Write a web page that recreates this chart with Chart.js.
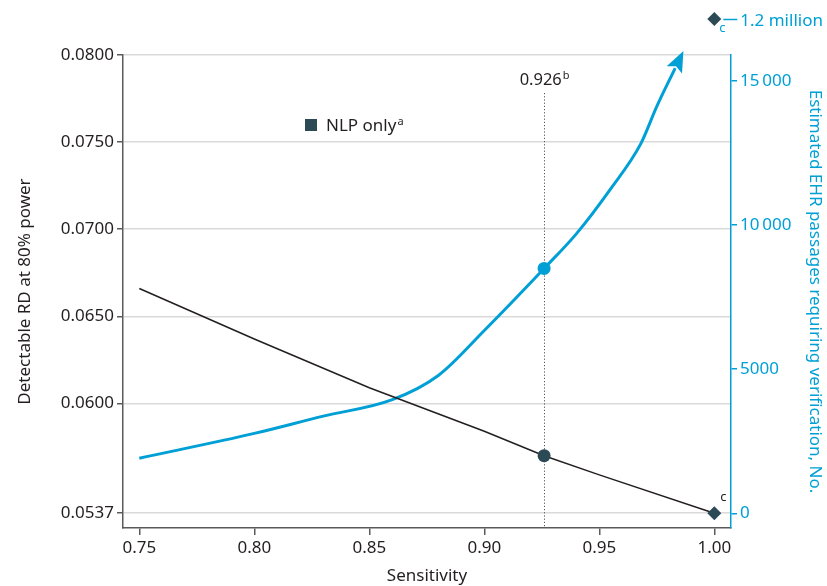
<!DOCTYPE html>
<html>
<head>
<meta charset="utf-8">
<script src="https://cdn.jsdelivr.net/npm/chart.js@4.4.1/dist/chart.umd.min.js"></script>
<style>
  body { margin: 0; background: #fff; }
</style>
</head>
<body>
<canvas id="chart" width="827" height="586"></canvas>
<script>
// detectable RD at 80% power, NLP only (left axis)
const rdSens = [0.75, 0.80, 0.85, 0.90, 0.926, 0.95, 1.00];
const rdValues = [0.0666, 0.0637, 0.0609, 0.0584, 0.0570, 0.0559, 0.0537];
// EHR passages requiring verification (right axis)
const ehrSens = [0.75, 0.80, 0.83, 0.86, 0.88, 0.90, 0.926, 0.94, 0.955, 0.968, 0.975, 0.983];
const ehrValues = [1910, 2770, 3370, 3940, 4780, 6340, 8490, 9690, 11260, 12810, 14110, 15440];
const leftTicks = [0.0537, 0.0600, 0.0650, 0.0700, 0.0750, 0.0800];
const rightTicks = [0, 5000, 10000, 15000];
const sensTicks = [0.75, 0.80, 0.85, 0.90, 0.95, 1.00];
const cutoff = 0.926;
const offScaleText = '1.2 million';

const FONT = "'Noto Sans', sans-serif";
const INK = '#231f20';
const BLUE = '#00a0d6';
const SLATE = '#2c4a56';
const AXIS = '#5a5a5a';

const lastRd = rdSens.length - 1;

// text with a small raised letter after it
function supText(ctx, base, sup, x, y, size, color, align) {
  ctx.save();
  ctx.fillStyle = color;
  ctx.textBaseline = 'alphabetic';
  ctx.font = size + 'px ' + FONT;
  const w1 = ctx.measureText(base).width;
  ctx.font = Math.round(size * 0.65) + 'px ' + FONT;
  const w2 = ctx.measureText(sup).width;
  let start = x;
  if (align === 'center') start = x - (w1 + w2) / 2;
  ctx.font = size + 'px ' + FONT;
  ctx.textAlign = 'left';
  ctx.fillText(base, start, y);
  ctx.font = Math.round(size * 0.65) + 'px ' + FONT;
  ctx.fillText(sup, start + w1 + 1, y - size * 0.38);
  ctx.restore();
}

function diamond(ctx, x, y, r, color) {
  ctx.save();
  ctx.fillStyle = color;
  ctx.beginPath();
  ctx.moveTo(x, y - r);
  ctx.lineTo(x + r, y);
  ctx.lineTo(x, y + r);
  ctx.lineTo(x - r, y);
  ctx.closePath();
  ctx.fill();
  ctx.restore();
}

const annotations = {
  id: 'annotations',
  beforeDatasetsDraw(chart) {
    const { ctx, chartArea, scales } = chart;
    const x = Math.round(scales.x.getPixelForValue(cutoff)) + 0.5;
    ctx.save();
    ctx.strokeStyle = '#555';
    ctx.lineWidth = 1;
    ctx.setLineDash([1.2, 2]);
    ctx.beginPath();
    ctx.moveTo(x, chartArea.top + 38);
    ctx.lineTo(x, chartArea.bottom);
    ctx.stroke();
    ctx.restore();
  },
  afterDatasetsDraw(chart) {
    const { ctx, chartArea, scales } = chart;
    const cx = scales.x.getPixelForValue(cutoff);
    supText(ctx, cutoff.toFixed(3), 'b', cx, chartArea.top + 30, 16.5, INK, 'center');

    // legend
    ctx.save();
    ctx.fillStyle = SLATE;
    ctx.fillRect(305, chartArea.top + 64, 12, 12);
    ctx.restore();
    supText(ctx, 'NLP only', 'a', 326, chartArea.top + 76, 17, INK, 'left');

    // arrow head on the EHR curve
    const pts = chart.getDatasetMeta(1).data;
    const p = pts[pts.length - 1];
    const q = pts[pts.length - 2];
    let dx = p.x - (p.cp1x !== undefined ? p.cp1x : q.x);
    let dy = p.y - (p.cp1y !== undefined ? p.cp1y : q.y);
    const len = Math.hypot(dx, dy) || 1;
    dx /= len; dy /= len;
    const L = 19, W = 8.5;
    const tipX = p.x + dx * L, tipY = p.y + dy * L;
    const backX = p.x - dx * 2, backY = p.y - dy * 2;
    ctx.save();
    ctx.fillStyle = BLUE;
    ctx.beginPath();
    ctx.moveTo(tipX, tipY);
    ctx.lineTo(backX - dy * W, backY + dx * W);
    ctx.lineTo(p.x + dx * 2, p.y + dy * 2);
    ctx.lineTo(backX + dy * W, backY - dx * W);
    ctx.closePath();
    ctx.fill();
    ctx.restore();

    // footnote mark by the diamond
    const dEl = chart.getDatasetMeta(0).data[lastRd];
    ctx.save();
    ctx.fillStyle = INK;
    ctx.font = '13px ' + FONT;
    ctx.textAlign = 'left';
    ctx.fillText('c', dEl.x + 6, dEl.y - 12);
    ctx.restore();

    // off-scale value above the right axis
    const ox = scales.x.getPixelForValue(1.00);
    const oy = chartArea.top - 36;
    diamond(ctx, ox, oy, 7, SLATE);
    ctx.save();
    ctx.fillStyle = BLUE;
    ctx.font = '13px ' + FONT;
    ctx.fillText('c', ox + 5, oy + 13);
    ctx.strokeStyle = BLUE;
    ctx.lineWidth = 1.5;
    ctx.beginPath();
    ctx.moveTo(ox + 9, oy + 0.5);
    ctx.lineTo(ox + 23, oy + 0.5);
    ctx.stroke();
    ctx.font = '17px ' + FONT;
    ctx.fillText(offScaleText, ox + 26, oy + 7);
    ctx.restore();
  }
};

new Chart(document.getElementById('chart'), {
  type: 'line',
  data: {
    datasets: [
      {
        label: 'NLP only',
        data: rdSens.map((s, i) => ({ x: s, y: rdValues[i] })),
        yAxisID: 'y',
        borderColor: INK,
        borderWidth: 1.5,
        tension: 0,
        pointRadius: rdSens.map((s, i) => s === cutoff ? 6.5 : (i === lastRd ? 7 : 0)),
        pointStyle: rdSens.map((s, i) => i === lastRd ? 'rectRot' : 'circle'),
        pointBackgroundColor: SLATE,
        pointBorderWidth: 0,
        order: 1
      },
      {
        label: 'EHR passages',
        data: ehrSens.map((s, i) => ({ x: s, y: ehrValues[i] })),
        yAxisID: 'y2',
        borderColor: BLUE,
        borderWidth: 3,
        cubicInterpolationMode: 'monotone',
        pointRadius: ehrSens.map(s => s === cutoff ? 6.5 : 0),
        pointBackgroundColor: BLUE,
        pointBorderWidth: 0,
        clip: false,
        order: 2
      }
    ]
  },
  options: {
    responsive: false,
    animation: false,
    layout: { padding: { top: 55, left: 0, right: 0, bottom: 0 } },
    plugins: {
      legend: { display: false },
      tooltip: { enabled: false }
    },
    scales: {
      x: {
        type: 'linear',
        min: 0.74291,
        max: 1.00726,
        afterFit: (s) => { s.height = 58; },
        afterBuildTicks: (s) => { s.ticks = sensTicks.map(v => ({ value: v })); },
        ticks: {
          callback: (v) => Number(v).toFixed(2),
          color: INK,
          font: { family: FONT, size: 17 },
          padding: 3,
          maxRotation: 0
        },
        grid: { drawOnChartArea: false, tickLength: 7, tickColor: AXIS, lineWidth: 1.5 },
        border: { display: true, color: AXIS, width: 1.5 },
        title: {
          display: true,
          text: 'Sensitivity',
          color: INK,
          font: { family: FONT, size: 17 },
          padding: { top: 0, bottom: 0 }
        }
      },
      y: {
        position: 'left',
        min: 0.05285,
        max: 0.0800,
        afterFit: (s) => { s.width = 123; },
        afterBuildTicks: (s) => { s.ticks = leftTicks.map(v => ({ value: v })); },
        ticks: {
          callback: (v) => Number(v).toFixed(4),
          color: INK,
          font: { family: FONT, size: 17 },
          padding: 3
        },
        grid: { color: '#dadada', lineWidth: 1.5, tickLength: 6, tickColor: AXIS },
        border: { display: true, color: AXIS, width: 1.5 },
        title: {
          display: true,
          text: 'Detectable RD at 80% power',
          color: INK,
          font: { family: FONT, size: 17 },
          padding: { top: 15, bottom: 0 }
        }
      },
      y2: {
        position: 'right',
        min: -510,
        max: 15892,
        afterFit: (s) => { s.width = 96; },
        afterBuildTicks: (s) => { s.ticks = rightTicks.map(v => ({ value: v })); },
        ticks: {
          callback: (v) => v >= 10000 ? String(v).replace(/(\d{3})$/, '\u2009$1') : String(v),
          color: BLUE,
          font: { family: FONT, size: 17 },
          padding: 3
        },
        grid: { drawOnChartArea: false, tickLength: 6, tickColor: BLUE, lineWidth: 1.5 },
        border: { display: true, color: BLUE, width: 1.5 },
        title: {
          display: true,
          text: 'Estimated EHR passages requiring verification, No.',
          color: BLUE,
          font: { family: FONT, size: 17 },
          padding: { top: 2, bottom: 0 }
        }
      }
    }
  },
  plugins: [annotations]
});
</script>
</body>
</html>
